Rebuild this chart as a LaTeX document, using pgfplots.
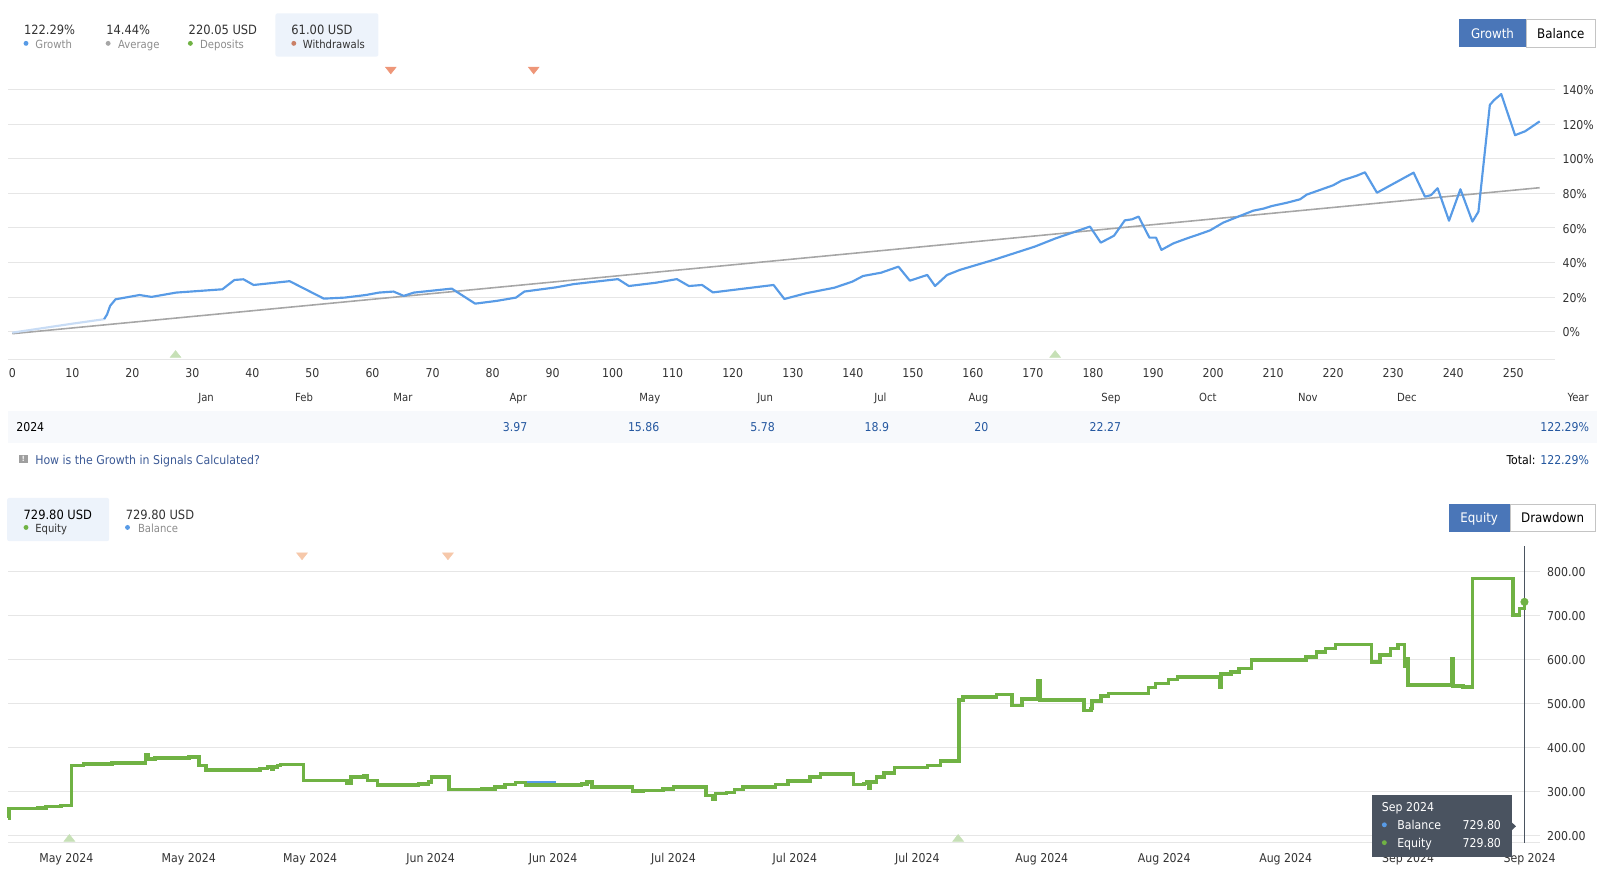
\documentclass[border=0pt]{standalone}
\usepackage{pgfplots}
\pgfplotsset{compat=1.18}
\usepackage{fontspec}
\setmainfont{DejaVu Sans Condensed}
\definecolor{cgrowth}{RGB}{88,155,230}
\definecolor{clight}{RGB}{200,220,245}
\definecolor{cavg}{RGB}{166,166,166}
\definecolor{cgreen}{RGB}{112,178,68}
\definecolor{cgrid}{RGB}{230,230,230}
\definecolor{cbtn}{RGB}{74,118,184}
\definecolor{cband}{RGB}{247,249,252}
\definecolor{cbox}{RGB}{237,243,251}
\definecolor{cval}{RGB}{37,88,160}
\definecolor{clink}{RGB}{60,90,150}
\definecolor{ctxt}{RGB}{51,51,51}
\definecolor{clab}{RGB}{140,140,140}
\definecolor{corange}{RGB}{238,150,120}
\definecolor{corangel}{RGB}{246,200,170}
\definecolor{cgreenl}{RGB}{198,224,182}
\definecolor{ctip}{RGB}{74,83,96}
\newcommand\fA{\fontsize{8.9}{10}\selectfont}
\newcommand\fB{\fontsize{7.8}{9}\selectfont}
\newcommand\fT{\fontsize{8.5}{10}\selectfont}
\newcommand\fBtn{\fontsize{9.2}{10}\selectfont}
\begin{document}
\begin{tikzpicture}
\useasboundingbox (0,0) rectangle (39.2cm,-21.9cm);
% ---------- TOP: growth ----------
\begin{axis}[
  at={(0.2cm,-8.8cm)}, anchor=south west,
  width=37.9cm, height=7.3cm, scale only axis,
  xmin=-0.68, xmax=256.97, ymin=-15.95, ymax=156.5,
  axis x line*=bottom, axis y line*=right,
  x axis line style={draw=cgrid, line width=0.7pt, -},
  y axis line style={draw=none},
  xtick={0,10,...,250}, ytick={0,20,...,140},
  yticklabel={\pgfmathprintnumber{\tick}\%},
  ymajorgrids, grid style={cgrid, line width=0.7pt},
  major tick length=0pt,
  /pgf/number format/assume math mode=true,
  tick label style={font=\fT, text=ctxt, text height=1.6ex, text depth=0.3ex},
  xticklabel style={anchor=center, yshift=-0.33cm},
  yticklabel style={anchor=west, inner sep=0pt, xshift=0.175cm},
  clip=false,
]
\addplot[cavg, line width=1.1pt] coordinates {(0,-1.2) (254.4,83.3)};
\addplot[clight, line width=1.5pt] coordinates {(0,-0.6) (5,2) (10,4.6) (15.3,7.2)};
\addplot[cgrowth, line width=1.5pt, line join=round] coordinates {
(15.3,7.2)(15.8,10)(16.3,14.9)(17.2,18.7)(21.2,21.2)(23.2,20.1)(27.3,22.6)(35,24.5)(37,29.9)(38.5,30.3)(40.2,27)(46.2,29.2)(51.9,19.1)(55.4,19.7)(58.9,21.2)(61.1,22.6)(63.5,23.2)(65.2,20.7)(66.9,22.6)(73.2,24.9)(77.1,16.2)(80.7,17.8)(83.9,19.7)(85.3,23.2)(90.5,25.6)(93.5,27.5)(100.9,30.4)(102.7,26.4)(107.2,28.3)(110.7,30.4)(112.7,26.4)(114.9,27)(116.7,22.7)(126.8,27)(128.6,18.9)(132.2,22.2)(136.9,25.4)(139.9,28.9)(141.7,32.2)(144.7,34.1)(147.6,37.6)(149.5,29.5)(152.4,32.8)(153.7,26.4)(155.7,32.8)(157.8,35.7)(163.7,41.8)(170.3,49.2)(173.8,54)(179.5,60.8)(181.3,51.5)(183.5,55.5)(185.3,64.4)(186.5,65)(187.6,66.6)(189.4,54.4)(190.5,54.4)(191.4,47.3)(193.4,51.1)(195.6,53.9)(197.8,56.5)(199.5,58.6)(201.7,63.1)(204.5,67)(206.7,70)(208.4,71.2)(209.8,72.7)(212.3,74.6)(214.5,76.6)(215.6,79.3)(220,84.7)(221.4,87.4)(223.9,90.2)(225.3,92.2)(227.3,80.4)(233.4,92)(235.3,78.1)(236.3,79)(237.4,83)(239.3,64.2)(241.2,82.4)(243.2,63.7)(244.2,69.4)(246.1,131.2)(246.8,134)(248,137.5)(250.3,113.7)(252,116)(254.4,121.7)};
\addplot[only marks, mark=triangle*, mark size=4.3pt, color=corange, mark options={rotate=180, yscale=0.73}] coordinates {(63.05,151.8) (86.85,151.8)};
\addplot[only marks, mark=triangle*, mark size=4.3pt, color=cgreenl, mark options={yscale=0.73}] coordinates {(27.2,-13.6) (173.7,-13.6)};
\end{axis}
% ---------- BOTTOM: equity ----------
\begin{axis}[
  at={(0.2cm,-20.65cm)}, anchor=south west,
  width=37.525cm, height=7.275cm, scale only axis,
  xmin=8, xmax=1509, ymin=183.3, ymax=857,
  axis x line*=bottom, axis y line*=right,
  x axis line style={draw=cgrid, line width=0.7pt, -},
  y axis line style={draw=none},
  xtick={65,185,304,422,542,660,779,899,1021,1141,1260,1380,1499},
  xticklabels={May 2024,May 2024,May 2024,Jun 2024,Jun 2024,Jul 2024,Jul 2024,Jul 2024,Aug 2024,Aug 2024,Aug 2024,Sep 2024,Sep 2024},
  ytick={200,300,...,800},
  ymajorgrids, grid style={cgrid, line width=0.7pt},
  major tick length=0pt,
  /pgf/number format/assume math mode=true,
  /pgf/number format/fixed, /pgf/number format/fixed zerofill, /pgf/number format/precision=2,
  tick label style={font=\fT, text=ctxt, text height=1.6ex, text depth=0.3ex},
  xticklabel style={anchor=center, yshift=-0.36cm},
  yticklabel style={anchor=west, inner sep=0pt, xshift=0.175cm},
  clip=false,
]
\draw[ctip, line width=0.8pt] (axis cs:1494,183.3) -- (axis cs:1494,857);
\addplot[cgrowth, line width=2.4pt] coordinates {(515,320.5)(545,320.5)};
\addplot[cgreen, line width=2.5pt, const plot] coordinates {
(8,240)(8.6,261)(37.5,263)(45,266)(60,268)(70,359)(82,362)(110,364)(122,365)(142.5,382)(145,374)(152,376.5)(185,378)(195,359)(202,349)(255,352)(262,355)(266,350)(268,355)(272,359)(275,361)(297.5,325)(340,319)(344,333)(357,336)(360,325)(370,314)(400,315)(410,317)(420,321)(423,333)(440,304)(472,306)(485,310)(495,316)(505,320)(515,315)(570,317)(575,321)(580,310)(620,301)(630,302)(650,306)(660,310)(692,291)(699,283)(701,295)(712,298)(720,304)(728,310)(760,316)(772,323.5)(794,333)(804,339)(836.5,316)(846.5,318)(849,321)(851,308)(852.5,321)(859,333)(866.5,342)(876.5,354)(909,359)(921.5,369)(940,507)(944,514)(976.5,520)(991.5,495)(1001.5,510)(1017.5,551)(1019,508)(1062.5,484)(1069,488)(1070,505)(1079,516)(1086.5,522)(1125.5,535.6)(1132.5,545)(1145,554)(1154,560)(1195,537)(1196.5,567)(1206.5,571)(1214,579)(1226.5,598)(1280,605)(1290,617)(1299,624)(1309,633)(1344,594)(1352.5,609)(1362.5,624)(1370,633)(1376.5,583)(1379,601.5)(1380,541)(1423,600)(1424,539.4)(1434,537)(1443,783)(1482.5,700)(1489,715)(1494,730)};
\addplot[only marks, mark=*, mark size=2.6pt, color=cgreen] coordinates {(1494,730)};
\addplot[only marks, mark=triangle*, mark size=4.3pt, color=corangel, mark options={rotate=180, yscale=0.73}] coordinates {(296,836) (439,836)};
\addplot[only marks, mark=triangle*, mark size=4.3pt, color=cgreenl, mark options={yscale=0.73}] coordinates {(68,192) (939,192)};
\end{axis}
% ---------- texts ----------
\begin{scope}[x=0.025cm, y=-0.025cm]
\tikzset{every node/.style={inner sep=0pt, text height=1.6ex, text depth=0.3ex}}
% top stats
\fill[cbox, rounded corners=1.5pt] (270,13) rectangle (371,55.5);
\node[anchor=west, font=\fA, text=ctxt] at (23.3,28.7) {122.29\%};
\node[anchor=west, font=\fA, text=ctxt] at (104,28.7) {14.44\%};
\node[anchor=west, font=\fA, text=ctxt] at (184.7,28.7) {220.05 USD};
\node[anchor=west, font=\fA, text=ctxt] at (285.4,28.7) {61.00 USD};
\fill[cgrowth] (25.5,42.5) circle (2.4);
\fill[cavg] (106,42.5) circle (2.4);
\fill[cgreen] (186.6,42.5) circle (2.4);
\fill[corange!85!black] (288,42.5) circle (2.4);
\node[anchor=west, font=\fB, text=clab] at (34.5,42.5) {Growth};
\node[anchor=west, font=\fB, text=clab] at (115.6,42.5) {Average};
\node[anchor=west, font=\fB, text=clab] at (196,42.5) {Deposits};
\node[anchor=west, font=\fB, text=ctxt] at (296.6,42.5) {Withdrawals};
% top buttons
\fill[cbtn] (1430,19) rectangle (1496,46);
\draw[cgrid!85!black, line width=0.6pt] (1496,19) rectangle (1564,46);
\node[font=\fBtn, text=white] at (1463,32.5) {Growth};
\node[font=\fBtn, text=black] at (1530,32.5) {Balance};
% months
\foreach \m/\xx in {Jan/202,Feb/298,Mar/395,Apr/508,May/637,Jun/750,Jul/863,Aug/959,Sep/1089,Oct/1184,Nov/1282,Dec/1379,Year/1547}
  \node[font=\fB, text=ctxt] at (\xx,389) {\m};
% band
\fill[cband] (8,403) rectangle (1565,434.5);
\node[anchor=west, font=\fT, text=black] at (15.7,418) {2024};
\foreach \v/\xx in {3.97/505,15.86/631,5.78/747.5,18.9/859.5,20/962,22.27/1083.5}
  \node[font=\fT, text=cval] at (\xx,418) {\v};
\node[anchor=east, font=\fT, text=cval] at (1558,418) {122.29\%};
% link
\fill[gray!75] (19,446) rectangle (27,454);
\node[font=\fontsize{5}{5}\selectfont\bfseries, text=white, text height=, text depth=] at (23,450) {!};
\node[anchor=west, font=\fT, text=clink] at (34.3,450.8) {How is the Growth in Signals Calculated?};
\node[anchor=east, font=\fT] at (1558,450.8) {\textcolor{black}{Total:} \textcolor{cval}{122.29\%}};
% bottom stats
\fill[cbox, rounded corners=1.5pt] (7,488) rectangle (107,530.5);
\node[anchor=west, font=\fA, text=black] at (22.9,504) {729.80 USD};
\node[anchor=west, font=\fA, text=ctxt] at (123,504) {729.80 USD};
\fill[cgreen] (25.5,517) circle (2.4);
\fill[cgrowth] (125,517) circle (2.4);
\node[anchor=west, font=\fB, text=ctxt] at (34.3,517) {Equity};
\node[anchor=west, font=\fB, text=clab] at (135,517) {Balance};
% bottom buttons
\fill[cbtn] (1420,494) rectangle (1480.5,521);
\draw[cgrid!85!black, line width=0.6pt] (1480.5,494) rectangle (1564,521);
\node[font=\fBtn, text=white] at (1450,507.5) {Equity};
\node[font=\fBtn, text=black] at (1522,507.5) {Drawdown};
% tooltip
\fill[ctip] (1344.6,778.8) rectangle (1481.8,840.5);
\fill[ctip] (1481.8,806) -- (1486,810) -- (1481.8,814) -- cycle;
\node[anchor=west, font=\fT, text=white] at (1354.4,790.5) {Sep 2024};
\fill[cgrowth] (1357,808.5) circle (2.4);
\fill[cgreen] (1357,826) circle (2.4);
\node[anchor=west, font=\fT, text=white] at (1369.4,808.5) {Balance};
\node[anchor=west, font=\fT, text=white] at (1369.4,826) {Equity};
\node[anchor=east, font=\fT, text=white] at (1471.6,808.5) {729.80};
\node[anchor=east, font=\fT, text=white] at (1471.6,826) {729.80};
\end{scope}
\end{tikzpicture}
\end{document}
